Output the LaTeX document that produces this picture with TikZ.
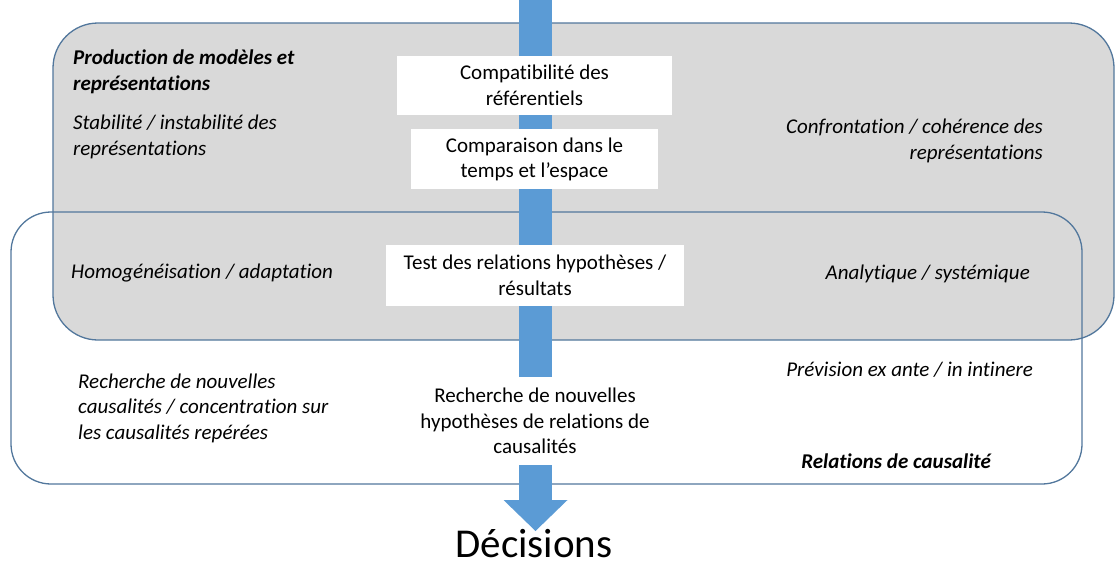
\documentclass[tikz,border=0pt]{standalone}
\usepackage{fontspec}
\setmainfont{Carlito}[Ligatures=NoCommon]
\usetikzlibrary{positioning, arrows.meta}

\definecolor{greyfill}{HTML}{D9D9D9}
\definecolor{frameblue}{HTML}{52779C}
\definecolor{arrowblue}{HTML}{5B9BD5}

\begin{document}
\begin{tikzpicture}[
  x=1pt, y=-1pt,
  node distance=14pt,
  frame/.style={draw=frameblue, line width=1.3pt},
  stepbox/.style={
    rectangle,
    fill=white,
    align=center,
    inner sep=0pt,
    font=\fontsize{21}{25.6}\selectfont
  },
  remark/.style={inner sep=0pt, font=\fontsize{21}{25.6}\selectfont\itshape},
  heading/.style={inner sep=0pt, font=\fontsize{21}{25.6}\selectfont\bfseries\itshape},
  bigarrow/.style={draw=arrowblue, line width=33pt,
    -{Triangle[length=31pt, width=64pt, line width=0pt]}}
]
  \useasboundingbox (0,0) rectangle (1115,562);

  % Zones
  \draw [frame, fill=greyfill, rounded corners=45pt] (53,23) rectangle (1114,340);
  \draw [frame, rounded corners=40pt] (11,212) rectangle (1082,484);

  % Arrow
  \coordinate (src) at (535.5,0);
  \coordinate (tip) at (535.5,531);
  \draw [bigarrow] (src) -- (tip);

  % Nodes
  \node (compat) [stepbox, minimum width=275pt, minimum height=59pt] at (534.5,85.5)
    {Compatibilité des\\référentiels};
  \node (compar) [stepbox, minimum width=247pt, minimum height=60pt, below=of compat]
    {Comparaison dans le\\temps et l’espace};
  \node (test) [stepbox, minimum width=298pt, minimum height=61pt] at (535,275.5)
    {Test des relations hypothèses /\\résultats};
  \node (search) [stepbox, minimum width=240pt, minimum height=88pt] at (535,421)
    {Recherche de nouvelles\\hypothèses de relations de\\causalités};
  \node (dec) [anchor=base, inner sep=0pt, font=\fontsize{41}{48}\selectfont] at (534,557)
    {Décisions};

  \node (prod) [heading, anchor=west, align=left] at (73,72)
    {Production de modèles et\\représentations};
  \node (stab) [remark, anchor=west, align=left] at (73,137)
    {Stabilité / instabilité des\\représentations};
  \node (confr) [remark, anchor=east, align=right] at (1043,141)
    {Confrontation / cohérence des\\représentations};
  \node (homog) [remark, anchor=west] at (71,273) {Homogénéisation / adaptation};
  \node (analyt) [remark, anchor=east] at (1030,274) {Analytique / systémique};
  \node (caus) [remark, anchor=west, align=left] at (78,408)
    {Recherche de nouvelles\\causalités / concentration sur\\les causalités repérées};
  \node (prev) [remark, anchor=east] at (1033,370) {Prévision ex ante / in intinere};
  \node (rel) [heading, anchor=east] at (991,461) {Relations de causalité};

\end{tikzpicture}
\end{document}
